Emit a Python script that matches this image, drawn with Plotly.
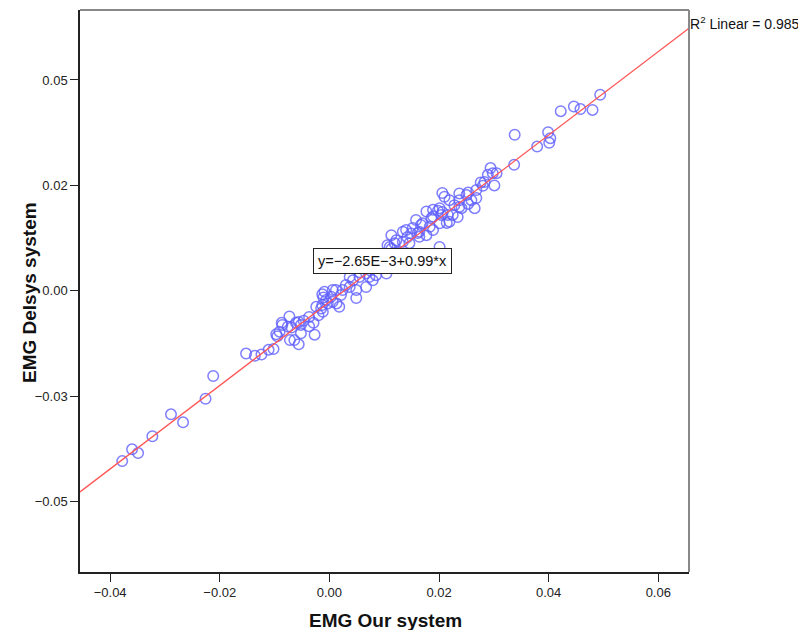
import plotly.graph_objects as go

# EMG values (x: Our system, y: Delsys system)
emg_our = [
    -0.0378, -0.0360, -0.0349, -0.0323, -0.0289, -0.0267, -0.0226, -0.0212,
    -0.0152, -0.0136, -0.0124, -0.0111, -0.0102, -0.0097, -0.0095, -0.0086,
    -0.0087, -0.0073, -0.0069, -0.0072, -0.0064, -0.0056, -0.0061, -0.0056,
    -0.0047, -0.0052, -0.0037, -0.0029, -0.0027, -0.0020, -0.0015, -0.0013,
    -0.0003, 0.0006, 0.0013, 0.0049, -0.0013, -0.0011, -0.0006, 0.0006,
    0.0024, 0.0030, 0.0037, 0.0055, 0.0067, 0.0085, 0.0104, 0.0113,
    -0.0076, -0.0091, -0.0052, -0.0037, -0.0024, -0.0012, 0.0003, 0.0021,
    0.0018, 0.0012, 0.0043, 0.0049, 0.0067, 0.0079, 0.0073, 0.0037, -0.0009,
    0.0073, 0.0088, 0.0100, 0.0113, 0.0124, 0.0091, 0.0106, 0.0106, 0.0113, 0.0055,
    0.0122, 0.0134, 0.0146, 0.0140, 0.0149, 0.0164, 0.0177, 0.0189,
    0.0158, 0.0170, 0.0186, 0.0201, 0.0216, 0.0219, 0.0177, 0.0189,
    0.0201, 0.0210, 0.0219, 0.0237, 0.0250, 0.0259, 0.0201, 0.0134,
    0.0183, 0.0164, 0.0204, 0.0189, 0.0198, 0.0167, 0.0237, 0.0253,
    0.0237, 0.0253, 0.0268, 0.0276, 0.0280, 0.0301, 0.0305, 0.0289,
    0.0294, 0.0337, 0.0338, 0.0379, 0.0401, 0.0403, 0.0399, 0.0422,
    0.0446, 0.0458, 0.0480, 0.0494, 0.0206, 0.0225, 0.0228, 0.0241,
    0.0265, 0.0268, 0.0283, 0.0298,
    0.0110, 0.0119, 0.0142, 0.0152, 0.0161, 0.0214, 0.0234, 0.0206,
]
emg_delsys = [
    -0.0404, -0.0376, -0.0385, -0.0345, -0.0293, -0.0312, -0.0256, -0.0202,
    -0.0149, -0.0154, -0.0151, -0.0140, -0.0138, -0.0103, -0.0108, -0.0081,
    -0.0076, -0.0061, -0.0087, -0.0117, -0.0117, -0.0127, -0.0076, -0.0074,
    -0.0071, -0.0081, -0.0084, -0.0076, -0.0104, -0.0058, -0.0042, -0.0034,
    -0.0030, -0.0026, -0.0030, -0.0017, -0.0008, -0.0016, -0.0022, 0.0002,
    0.0002, 0.0014, 0.0033, 0.0033, 0.0041, 0.0037, 0.0041, 0.0132,
    -0.0085, -0.0097, -0.0101, -0.0062, -0.0038, -0.0050, -0.0014, -0.0010,
    -0.0038, 0.0002, 0.0025, 0.0002, 0.0009, 0.0025, 0.0033, 0.0009, -0.0002,
    0.0049, 0.0059, 0.0068, 0.0085, 0.0092, 0.0078, 0.0054, 0.0108, 0.0099, 0.0044,
    0.0120, 0.0116, 0.0113, 0.0144, 0.0136, 0.0140, 0.0132, 0.0144,
    0.0168, 0.0160, 0.0172, 0.0160, 0.0180, 0.0164, 0.0188, 0.0192,
    0.0196, 0.0223, 0.0215, 0.0231, 0.0227, 0.0215, 0.0104, 0.0140,
    0.0152, 0.0128, 0.0180, 0.0176, 0.0190, 0.0156, 0.0199, 0.0206,
    0.0215, 0.0233, 0.0239, 0.0257, 0.0249, 0.0250, 0.0279, 0.0275,
    0.0291, 0.0299, 0.0370, 0.0342, 0.0351, 0.0362, 0.0376, 0.0426,
    0.0437, 0.0431, 0.0429, 0.0465, 0.0187, 0.0180, 0.0203, 0.0196,
    0.0196, 0.0220, 0.0258, 0.0279,
    0.0104, 0.0113, 0.0127, 0.0149, 0.0137, 0.0161, 0.0175, 0.0232,
]

# Fit line (from the chart's equation label)
fit_intercept = -2.65e-3
fit_slope = 0.99
r_squared = 0.985

x_range = [-0.0455, 0.0656]
y_range = [-0.0667, 0.0666]

x_ticks = [-0.04, -0.02, 0.00, 0.02, 0.04, 0.06]
x_tick_labels = ["\u22120.04", "\u22120.02", "0.00", "0.02", "0.04", "0.06"]
y_ticks = [-0.05, -0.025, 0.0, 0.025, 0.05]
y_tick_labels = ["\u22120.05", "\u22120.03", "0.00", "0.02", "0.05"]

x_title = "EMG Our system"
y_title = "EMG Delsys system"

FONT = "Liberation Sans, Arial, sans-serif"

fig = go.Figure()

fig.add_trace(go.Scatter(
    x=emg_our, y=emg_delsys, mode="markers",
    marker=dict(symbol="circle-open", size=10.5, color="rgba(95,95,255,0.8)",
                line=dict(width=1.5, color="rgba(95,95,255,0.8)")),
    showlegend=False, hoverinfo="x+y",
))

line_x = list(x_range)
line_y = [fit_intercept + fit_slope * v for v in line_x]
fig.add_trace(go.Scatter(
    x=line_x, y=line_y, mode="lines",
    line=dict(color="rgb(255,85,85)", width=1.3),
    showlegend=False, hoverinfo="skip",
))

fig.update_layout(
    width=798, height=630,
    margin=dict(l=80, r=109, t=10, b=58),
    paper_bgcolor="white", plot_bgcolor="white",
    font=dict(family=FONT, color="#222222", size=13),
    xaxis=dict(
        range=x_range, tickvals=x_ticks, ticktext=x_tick_labels,
        showgrid=False, zeroline=False,
        showline=True, linecolor="#222222", linewidth=1.5,
        ticks="outside", ticklen=8, tickcolor="#222222", tickwidth=1.3,
        tickfont=dict(size=13, color="#222222"),
    ),
    yaxis=dict(
        range=y_range, tickvals=y_ticks, ticktext=y_tick_labels,
        showgrid=False, zeroline=False,
        showline=True, linecolor="#222222", linewidth=1.5,
        ticks="outside", ticklen=8, tickcolor="#222222", tickwidth=1.3,
        tickfont=dict(size=13, color="#222222"),
    ),
    shapes=[
        dict(type="line", xref="paper", yref="paper", x0=0, x1=1, y0=1, y1=1,
             line=dict(color="#888888", width=2)),
        dict(type="line", xref="paper", yref="paper", x0=1, x1=1, y0=0, y1=1,
             line=dict(color="#888888", width=2)),
    ],
    annotations=[
        dict(text="<b>%s</b>" % x_title, xref="paper", yref="paper",
             x=(385 - 80) / 609, y=-(620 - 572) / 562, xanchor="center", yanchor="middle",
             showarrow=False, font=dict(size=19, color="#111111", family=FONT)),
        dict(text="<b>%s</b>" % y_title, xref="paper", yref="paper", textangle=-90,
             x=(29 - 80) / 609, y=(572 - 293) / 562, xanchor="center", yanchor="middle",
             showarrow=False, font=dict(size=19, color="#111111", family=FONT)),
        dict(text="y=\u22122.65E\u22123+0.99*x", x=0.00975, y=0.00705, xref="x", yref="y",
             showarrow=False, font=dict(size=14.5, color="#111111", family=FONT),
             bgcolor="white", bordercolor="#222222", borderwidth=1, borderpad=4),
        dict(text="R<sup>2</sup> Linear = %.3f" % r_squared, xref="paper", yref="paper",
             x=1.0, y=1.0, xanchor="left", yanchor="top", yshift=-2, xshift=-1,
             showarrow=False, font=dict(size=14, color="#111111", family=FONT)),
    ],
)

fig.write_html("out.html")
